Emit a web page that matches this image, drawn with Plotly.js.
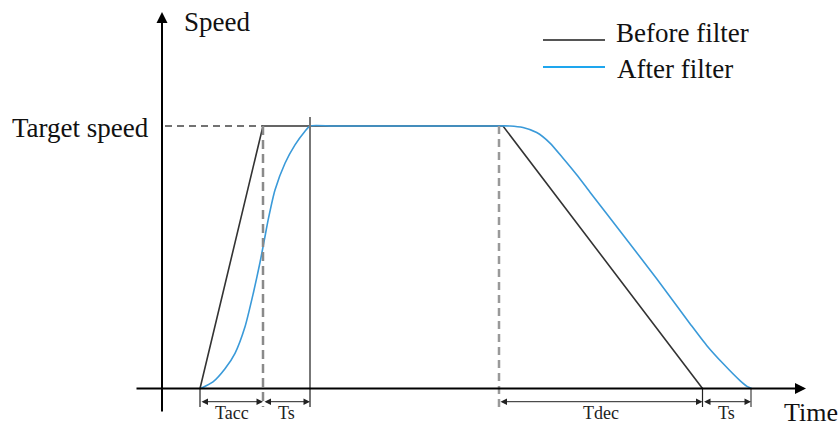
<!DOCTYPE html>
<html>
<head>
<meta charset="utf-8">
<script src="https://cdn.plot.ly/plotly-3.0.1.min.js"></script>
<style>
  html, body { margin: 0; padding: 0; background: #ffffff; }
  #chart { width: 839px; height: 427px; }
</style>
</head>
<body>
<div id="chart"></div>
<script>
// ---- Data (time in arbitrary units, speed normalised: target speed = 1) ----
const beforeTime = [3.8, 10.1, 34.1, 54.05];
const beforeSpeed = [0, 1, 1, 0];

const afterTime = [3.87, 5.1, 6.3, 7.3, 8.3, 9.13, 9.8, 10.23, 10.63, 11.3, 12.3, 13.3, 14.3, 14.8,
                   17, 21, 25, 29, 33, 34.8, 36.1, 37.47, 38.8, 40.13, 41.47, 42.8, 46.13, 49.47, 52.8,
                   54.47, 56.13, 57.8, 58.5, 58.97];
const afterSpeed = [0, 0.025, 0.075, 0.134, 0.235, 0.363, 0.48, 0.565, 0.645, 0.756, 0.858, 0.928, 0.98, 1.0,
                    1.0, 1.0, 1.0, 1.0, 1.0, 1.0, 0.994, 0.975, 0.935, 0.876, 0.814, 0.748, 0.584, 0.418, 0.247,
                    0.164, 0.094, 0.03, 0.008, 0];

// Key instants (marker lines and interval brackets)
const tAccStart = 3.8;
const tAccEnd = 10.1;
const tSEnd = 14.8;
const tDecStart = 33.7;
const tDecEnd = 54.05;
const tSEnd2 = 58.9;
const targetSpeed = 1;

const intervalLabels = ["Tacc", "Ts", "Tdec", "Ts"];
const intervalStart = [tAccStart, tAccEnd, tDecStart, tDecEnd];
const intervalEnd = [tAccEnd, tSEnd, tDecEnd, tSEnd2];

const seriesNames = ["Before filter", "After filter"];
const seriesColors = ["#333333", "#3a9ad9"];

// ---- Layout helpers ----
const serif = "Liberation Serif, Times New Roman, serif";
const tickLow = -0.0705;   // bottom of small marker ticks
const bracketY = -0.0503;  // level of interval arrows
const labelY = -0.094;     // level of interval labels

const traces = [
  { x: beforeTime, y: beforeSpeed, mode: "lines", name: seriesNames[0],
    line: { color: seriesColors[0], width: 1.6 }, hoverinfo: "skip" },
  { x: afterTime, y: afterSpeed, mode: "lines", name: seriesNames[1],
    line: { color: seriesColors[1], width: 1.6, shape: "spline", smoothing: 0.6 }, hoverinfo: "skip" }
];

const shapes = [
  // dashed target-speed guide
  { type: "line", xref: "x", yref: "y", x0: 0.3, x1: tAccEnd, y0: targetSpeed, y1: targetSpeed,
    line: { color: "#444", width: 1.3, dash: "7px,5px" } },
  // dashed vertical at end of Tacc
  { type: "line", xref: "x", yref: "y", x0: tAccEnd, x1: tAccEnd, y0: targetSpeed, y1: tickLow,
    line: { color: "#8a8a8a", width: 2.5, dash: "9px,5px" } },
  // dashed vertical at start of Tdec
  { type: "line", xref: "x", yref: "y", x0: tDecStart, x1: tDecStart, y0: targetSpeed, y1: tickLow,
    line: { color: "#999", width: 2.5, dash: "8px,5px" } },
  // solid vertical at end of Ts
  { type: "line", xref: "x", yref: "y", x0: tSEnd, x1: tSEnd, y0: 1.034, y1: tickLow,
    line: { color: "#777", width: 2 } },
  // small ticks
  { type: "line", xref: "x", yref: "y", x0: tAccStart, x1: tAccStart, y0: 0, y1: tickLow,
    line: { color: "#222", width: 1.2 } },
  { type: "line", xref: "x", yref: "y", x0: tDecEnd, x1: tDecEnd, y0: 0, y1: tickLow,
    line: { color: "#222", width: 1.2 } },
  { type: "line", xref: "x", yref: "y", x0: tSEnd2, x1: tSEnd2, y0: 0, y1: tickLow,
    line: { color: "#666", width: 1.5 } },
  // legend samples
  { type: "line", xref: "x", yref: "y", x0: 38.1, x1: 44.3, y0: 1.3276, y1: 1.3276,
    line: { color: "#555", width: 2.2 } },
  { type: "line", xref: "x", yref: "y", x0: 38.1, x1: 44.3, y0: 1.2248, y1: 1.2248,
    line: { color: "#1ea6ee", width: 2 } }
];

const annotations = [];
// axes with arrows
annotations.push({ x: 64.4, y: 0, ax: -2.7, ay: 0, xref: "x", yref: "y", axref: "x", ayref: "y",
  text: "", showarrow: true, arrowhead: 2, arrowsize: 1.1, arrowwidth: 2, arrowcolor: "#000",
  standoff: 0, startstandoff: 0 });
annotations.push({ x: 0, y: 1.434, ax: 0, ay: -0.0933, xref: "x", yref: "y", axref: "x", ayref: "y",
  text: "", showarrow: true, arrowhead: 2, arrowsize: 1.1, arrowwidth: 2, arrowcolor: "#000",
  standoff: 0, startstandoff: 0 });

// interval brackets and labels
for (let i = 0; i < intervalLabels.length; i++) {
  annotations.push({ x: intervalEnd[i], y: bracketY, ax: intervalStart[i], ay: bracketY,
    xref: "x", yref: "y", axref: "x", ayref: "y", text: "", showarrow: true,
    arrowhead: 2, startarrowhead: 2, arrowside: "end+start", arrowsize: 1.3, startarrowsize: 1.3,
    arrowwidth: 1, arrowcolor: "#222", standoff: 0, startstandoff: 0 });
  annotations.push({ x: (intervalStart[i] + intervalEnd[i]) / 2, y: labelY, xref: "x", yref: "y",
    text: intervalLabels[i], showarrow: false, xanchor: "center", yanchor: "middle",
    font: { family: serif, size: 18, color: "#222" } });
}

// axis & legend texts
const txt = (t, x, y, xanchor, size) => ({ text: t, x: x, y: y, xref: "x", yref: "y", showarrow: false,
  xanchor: xanchor, yanchor: "middle", font: { family: serif, size: size || 27, color: "#111" } });
annotations.push(txt("Speed", 2.0, 1.396, "left"));
annotations.push(txt("Target speed", -1.1, 0.992, "right"));
annotations.push(txt("Time", 62.0, -0.09, "left", 26));
annotations.push(txt(seriesNames[0], 45.2, 1.3543, "left"));
annotations.push(txt(seriesNames[1], 45.3, 1.2171, "left"));

const layout = {
  width: 839, height: 427,
  margin: { l: 0, r: 0, t: 0, b: 0 },
  paper_bgcolor: "#ffffff", plot_bgcolor: "#ffffff",
  showlegend: false,
  xaxis: { range: [-16.2, 67.7], visible: false, fixedrange: true },
  yaxis: { range: [-0.1467, 1.48], visible: false, fixedrange: true },
  shapes: shapes,
  annotations: annotations
};

Plotly.newPlot("chart", traces, layout, { staticPlot: true, displayModeBar: false });
</script>
</body>
</html>
